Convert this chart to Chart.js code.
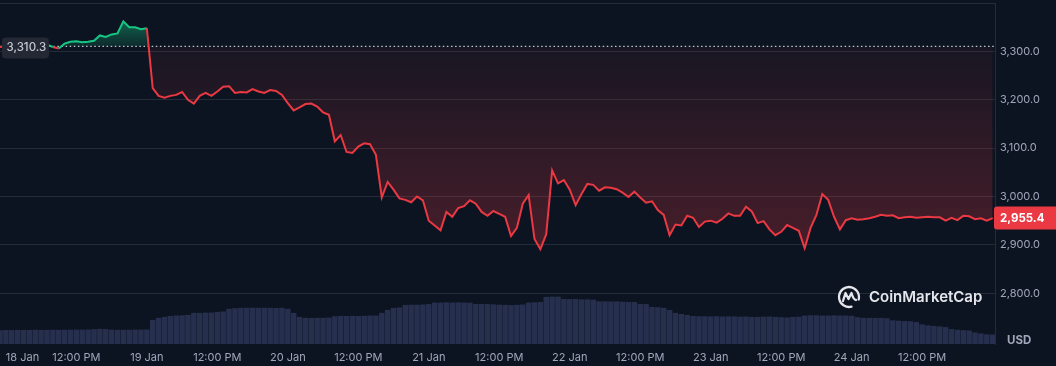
<!DOCTYPE html>
<html>
<head>
<meta charset="utf-8">
<script src="https://cdn.jsdelivr.net/npm/chart.js@4.4.1/dist/chart.umd.min.js"></script>
<style>
  html, body { margin: 0; padding: 0; background: #0d1421; }
  #wrap { width: 1056px; height: 366px; }
</style>
</head>
<body>
<div id="wrap"><canvas id="eth-chart" width="1056" height="366"></canvas></div>
<script>
// =============================================================================
// DATA (hours since 18 Jan 00:00, hourly close in USD, hourly volume in $B)
// =============================================================================

const openPrice = 3310.3;
const lastPrice = 2955.4;

const hours = [
  -1,
  0, 1, 2, 3, 4, 5, 6, 7, 8, 9,
  10, 11, 12, 13, 14, 15, 16, 17, 18, 19,
  20, 21, 22, 23, 24, 25, 26, 27, 28, 29,
  30, 31, 32, 33, 34, 35, 36, 37, 38, 39,
  40, 41, 42, 43, 44, 45, 46, 47, 48, 49,
  50, 51, 52, 53, 54, 55, 56, 57, 58, 59,
  60, 61, 62, 63, 64, 65, 66, 67, 68, 69,
  70, 71, 72, 73, 74, 75, 76, 77, 78, 79,
  80, 81, 82, 83, 84, 85, 86, 87, 88, 89,
  90, 91, 92, 93, 94, 95, 96, 97, 98, 99,
  100, 101, 102, 103, 104, 105, 106, 107, 108, 109,
  110, 111, 112, 113, 114, 115, 116, 117, 118, 119,
  120, 121, 122, 123, 124, 125, 126, 127, 128, 129,
  130, 131, 132, 133, 134, 135, 136, 137, 138, 139,
  140, 141, 142, 143, 144, 145, 146, 147, 148, 149,
  150, 151, 152, 153, 154, 155, 156, 157, 158, 159,
  160, 161, 162, 163, 164, 165, 166, 167, 168
];

const prices = [
  3309,
  3310, 3311, 3310, 3311, 3310, 3311, 3310, 3314, 3309, 3306,
  3316, 3320, 3321, 3319, 3320, 3322, 3333, 3330, 3335, 3337,
  3362, 3350, 3350, 3346, 3348, 3224, 3208, 3204, 3208, 3210,
  3216, 3200, 3192, 3208, 3214, 3208, 3217, 3227, 3228, 3214,
  3216, 3215, 3222, 3217, 3214, 3220, 3218, 3210, 3193, 3178,
  3184, 3191, 3192, 3186, 3174, 3169, 3114, 3127, 3092, 3090,
  3103, 3110, 3108, 3086, 2998, 3030, 3014, 2996, 2993, 2988,
  3000, 2992, 2950, 2940, 2930, 2968, 2958, 2976, 2980, 2992,
  2985, 2968, 2960, 2970, 2964, 2958, 2918, 2935, 2985, 3003,
  2912, 2891, 2922, 3054, 3027, 3034, 3014, 2982, 3005, 3026,
  3024, 3012, 3019, 3018, 3015, 3008, 2999, 3010, 2998, 2987,
  2990, 2972, 2962, 2920, 2942, 2940, 2960, 2956, 2937, 2948,
  2950, 2946, 2954, 2965, 2960, 2960, 2979, 2969, 2945, 2949,
  2932, 2920, 2927, 2941, 2935, 2929, 2893, 2935, 2962, 3005,
  2993, 2958, 2932, 2951, 2955, 2952, 2953, 2955, 2958, 2962,
  2960, 2961, 2955, 2957, 2958, 2956, 2957, 2958, 2957, 2957,
  2950, 2956, 2951, 2960, 2959, 2953, 2955, 2950, 2955.4
];

const volumes = [
  1.02,
  1.03, 1.03, 1.04, 1.04, 1.04, 1.05, 1.04, 1.04, 1.05, 1.05,
  1.05, 1.06, 1.06, 1.06, 1.07, 1.10, 1.12, 1.10, 1.06, 1.05,
  1.05, 1.05, 1.06, 1.06, 1.07, 1.78, 1.93, 2.00, 2.07, 2.10,
  2.12, 2.15, 2.30, 2.30, 2.32, 2.32, 2.37, 2.40, 2.60, 2.65,
  2.67, 2.68, 2.68, 2.67, 2.68, 2.67, 2.66, 2.67, 2.60, 2.30,
  2.00, 1.93, 1.92, 1.93, 1.93, 1.95, 2.05, 2.07, 2.07, 2.08,
  2.07, 2.08, 2.10, 2.10, 2.30, 2.52, 2.67, 2.70, 2.89, 2.90,
  2.90, 2.92, 2.95, 3.06, 3.06, 3.08, 3.06, 3.07, 3.06, 3.05,
  2.96, 2.96, 2.95, 2.93, 2.90, 2.89, 2.88, 2.89, 2.92, 3.06,
  3.08, 3.10, 3.48, 3.50, 3.50, 3.33, 3.32, 3.33, 3.30, 3.30,
  3.28, 3.15, 3.15, 3.14, 3.15, 3.12, 3.10, 3.10, 2.96, 2.95,
  2.74, 2.72, 2.67, 2.52, 2.30, 2.22, 2.15, 2.07, 2.05, 2.05,
  2.04, 2.05, 2.03, 2.04, 2.04, 2.02, 2.03, 2.00, 2.00, 2.02,
  2.03, 2.00, 1.98, 1.96, 2.00, 2.02, 2.10, 2.12, 2.12, 2.10,
  2.10, 2.12, 2.10, 2.10, 2.08, 1.98, 1.93, 1.93, 1.92, 1.93,
  1.90, 1.75, 1.72, 1.70, 1.68, 1.62, 1.45, 1.38, 1.33, 1.30,
  1.25, 1.10, 1.05, 1.02, 1.00, 0.85, 0.78, 0.72, 0.70
];

const tickHours = [0, 12, 24, 36, 48, 60, 72, 84, 96, 108, 120, 132, 144, 156, 168];
const tickLabels = [
  '18 Jan', '12:00 PM', '19 Jan', '12:00 PM', '20 Jan', '12:00 PM', '21 Jan',
  '12:00 PM', '22 Jan', '12:00 PM', '23 Jan', '12:00 PM', '24 Jan', '12:00 PM', ''
];
const priceTicks = [2800, 2900, 3000, 3100, 3200, 3300, 3400];

// =============================================================================
// STYLE
// =============================================================================

const BG = '#0d1421';
const GREEN = '#16c784';
const RED = '#ea3943';
const GRID = 'rgba(255, 255, 255, 0.1)';
const TEXT = '#a1a7bb';
const X_MIN = -1;
const X_MAX = 168.4;

Chart.defaults.font.family = 'Inter, "Noto Sans", sans-serif';

const fmt = (v) => v.toLocaleString('en-US', { minimumFractionDigits: 1, maximumFractionDigits: 1 });

/**
 * Green above the open price, red gradient below it
 */
function priceFill(context) {
  const { ctx, chartArea, scales } = context.chart;
  if (!chartArea || !scales.y) return 'rgba(0,0,0,0)';
  const top = chartArea.top;
  const h = chartArea.bottom - chartArea.top;
  const f = (v) => Math.min(1, Math.max(0, (scales.y.getPixelForValue(v) - top) / h));
  const fb = f(openPrice);
  const g = ctx.createLinearGradient(0, top, 0, chartArea.bottom);
  g.addColorStop(0, 'rgba(22, 199, 132, 0.5)');
  g.addColorStop(f(3360), 'rgba(22, 199, 132, 0.42)');
  g.addColorStop(fb, 'rgba(22, 199, 132, 0.12)');
  g.addColorStop(Math.min(1, fb + 0.001), 'rgba(234, 57, 67, 0.05)');
  g.addColorStop(f(2900), 'rgba(234, 57, 67, 0.26)');
  g.addColorStop(1, 'rgba(234, 57, 67, 0.26)');
  return g;
}

// Background, price tags, currency label and watermark
const decorations = {
  id: 'decorations',
  beforeDraw(chart) {
    const { ctx, width, height } = chart;
    ctx.save();
    ctx.fillStyle = BG;
    ctx.fillRect(0, 0, width, height);
    ctx.restore();
  },
  afterDraw(chart) {
    const { ctx, chartArea, scales } = chart;
    const yOpen = scales.y.getPixelForValue(openPrice);
    const yLast = scales.y.getPixelForValue(lastPrice);
    ctx.save();

    // open price tag (left)
    ctx.fillStyle = '#242834';
    ctx.beginPath();
    ctx.roundRect(2, yOpen - 9, 47, 21, 4);
    ctx.fill();
    ctx.fillStyle = '#c3c8d3';
    ctx.font = '500 11.5px Inter';
    ctx.textBaseline = 'middle';
    ctx.textAlign = 'left';
    ctx.fillText(fmt(openPrice), 6.5, yOpen + 1.5);

    // last price tag (right)
    ctx.fillStyle = RED;
    ctx.beginPath();
    ctx.roundRect(chartArea.right - 1, yLast - 11.5, 66, 23, 3);
    ctx.fill();
    ctx.fillStyle = '#ffffff';
    ctx.font = 'bold 11.5px Inter';
    ctx.fillText(fmt(lastPrice), chartArea.right + 5, yLast + 0.5);

    // currency
    ctx.fillStyle = TEXT;
    ctx.font = 'bold 11.5px Inter';
    ctx.fillText('USD', chartArea.right + 12, 341);

    // watermark
    const cx = 849, cy = 297;
    ctx.strokeStyle = '#e4e6eb';
    ctx.lineWidth = 2.3;
    ctx.lineCap = 'round';
    ctx.lineJoin = 'round';
    ctx.beginPath();
    ctx.arc(cx, cy, 10, Math.PI * 0.42, Math.PI * 2.08);
    ctx.stroke();
    ctx.beginPath();
    ctx.moveTo(cx - 6, cy + 4);
    ctx.lineTo(cx - 3.5, cy - 4);
    ctx.lineTo(cx - 0.5, cy + 2);
    ctx.lineTo(cx + 2.5, cy - 4);
    ctx.quadraticCurveTo(cx + 4.5, cy + 3, cx + 7, cy + 3);
    ctx.stroke();
    ctx.fillStyle = '#e4e6eb';
    ctx.font = '600 15px Inter';
    ctx.fillText('CoinMarketCap', 869, cy);

    ctx.restore();
  }
};

// =============================================================================
// CHART
// =============================================================================

const chart = new Chart(document.getElementById('eth-chart'), {
  type: 'line',
  data: {
    datasets: [
      {
        type: 'line',
        label: 'Price',
        data: hours.map((h, i) => ({ x: h, y: prices[i] })),
        yAxisID: 'y',
        order: 1,
        borderColor: RED,
        borderWidth: 2,
        pointRadius: 0,
        tension: 0,
        segment: {
          borderColor: (c) => ((c.p0.parsed.y + c.p1.parsed.y) / 2 >= openPrice ? GREEN : RED)
        },
        backgroundColor: priceFill,
        fill: { target: { value: openPrice } }
      },
      {
        type: 'line',
        label: 'Open',
        data: [{ x: hours[0], y: openPrice }, { x: X_MAX, y: openPrice }],
        yAxisID: 'y',
        order: 2,
        borderColor: 'rgba(225, 228, 236, 0.85)',
        borderWidth: 1.3,
        borderDash: [1.5, 2.6],
        pointRadius: 0,
        fill: false
      },
      {
        type: 'bar',
        label: 'Volume',
        data: hours.map((h, i) => ({ x: h, y: volumes[i] })),
        yAxisID: 'vol',
        order: 3,
        backgroundColor: '#272f4e',
        categoryPercentage: 1,
        barPercentage: 0.93
      }
    ]
  },
  options: {
    responsive: false,
    devicePixelRatio: 1,
    animation: false,
    events: [],
    layout: { padding: { top: 3, left: 0, right: 0, bottom: 0 } },
    plugins: {
      legend: { display: false },
      tooltip: { enabled: false }
    },
    scales: {
      x: {
        type: 'linear',
        min: X_MIN,
        max: X_MAX,
        offset: false,
        grid: { display: false, drawTicks: false, offset: false },
        border: { display: false },
        afterBuildTicks: (axis) => { axis.ticks = tickHours.map(v => ({ value: v })); },
        afterFit: (axis) => { axis.height = 22; axis.paddingLeft = 0; axis.paddingRight = 0; },
        ticks: {
          autoSkip: false,
          maxRotation: 0,
          align: 'inner',
          padding: 7,
          color: TEXT,
          font: { size: 11 },
          callback: (v, i) => tickLabels[i]
        }
      },
      y: {
        type: 'linear',
        position: 'right',
        min: 2695,
        max: 3400,
        afterBuildTicks: (axis) => { axis.ticks = priceTicks.map(v => ({ value: v })); },
        afterFit: (axis) => { axis.width = 61; axis.paddingTop = 0; axis.paddingBottom = 0; },
        grid: { color: GRID, drawTicks: false },
        border: { display: true, color: GRID },
        ticks: {
          padding: 5,
          color: TEXT,
          font: { size: 11 },
          callback: (v) => (v >= 3400 ? '' : fmt(v))
        }
      },
      vol: {
        type: 'linear',
        display: false,
        min: 0,
        max: 25.2
      }
    }
  },
  plugins: [decorations]
});
</script>
</body>
</html>
